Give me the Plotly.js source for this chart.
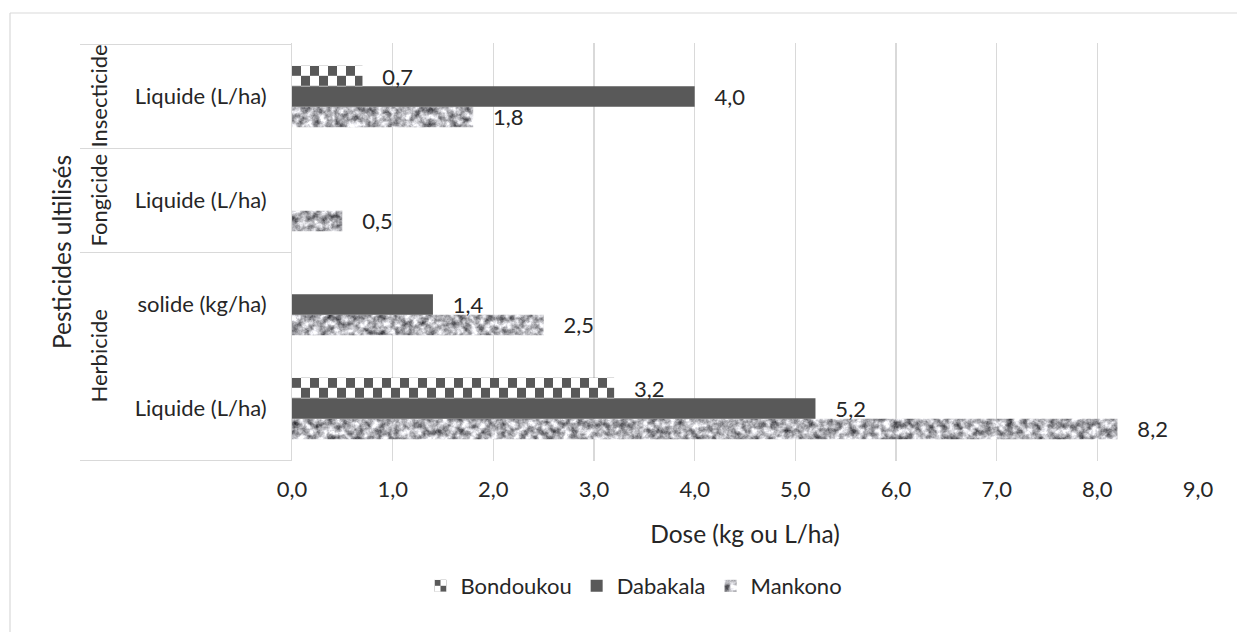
<!DOCTYPE html>
<html>
<head>
<meta charset="utf-8">
<script src="https://cdn.plot.ly/plotly-3.0.1.min.js"></script>
<style>
  html, body { margin:0; padding:0; background:#ffffff; }
  #chart { width:1237px; height:632px; }
</style>
</head>
<body>
<div id="chart"></div>
<script>
// ---- data (categories listed bottom to top) ----
var groups = ['Herbicide', 'Herbicide', 'Fongicide', 'Insecticide'];
var subLabels = ['Liquide (L/ha)', 'solide (kg/ha)', 'Liquide (L/ha)', 'Liquide (L/ha)'];
var bondoukou = [3.2, null, null, 0.7];
var dabakala  = [5.2, 1.4, null, 4.0];
var mankono   = [8.2, 2.5, 0.5, 1.8];
var seriesNames = ['Bondoukou', 'Dabakala', 'Mankono'];
var xTickValues = [0, 1, 2, 3, 4, 5, 6, 7, 8, 9];
var xTitle = 'Dose (kg ou L/ha)';
var yTitle = 'Pesticides ultilisés';

// ---- geometry helpers (pixel layout of the reference) ----
var W = 1237, H = 632;
var PL = 292, PR = 1198, PT = 43, PB = 461;
var PW = PR - PL, PH = PB - PT;
function px2x(p) { return (p - PL) / PW; }
function px2y(p) { return (PB - p) / PH; }

var keys = groups.map(function (g, i) { return g + ' | ' + subLabels[i] + ' #' + i; });
var NB = '\u00a0\u00a0\u00a0';
function labels(arr) {
  return arr.map(function (v) { return v == null ? '' : NB + v.toFixed(1).replace('.', ','); });
}

var txtColor = '#262626';
var fontFam = 'Lato, Carlito, Calibri, "Open Sans", sans-serif';
var baseSize = 22, titleSize = 24.5;

function barTrace(name, vals, color) {
  return {
    type: 'bar', orientation: 'h', name: name,
    y: keys, x: vals,
    text: labels(vals), textposition: 'outside', cliponaxis: false,
    constraintext: 'none',
    textfont: { family: fontFam, size: baseSize, color: txtColor },
    marker: { color: color, line: { width: 0 } },
    hoverinfo: 'skip'
  };
}

// bottom-to-top within a group: Mankono, Dabakala, Bondoukou
var traces = [
  barTrace(seriesNames[2], mankono, '#a6a6a6'),
  barTrace(seriesNames[1], dabakala, '#595959'),
  barTrace(seriesNames[0], bondoukou, '#7f7f7f')
];

// ---- category table lines & labels ----
var shapes = [];
var annotations = [];
var gridCol = '#d9d9d9';
for (var i = 0; i <= groups.length; i++) {
  if (i === 0 || i === groups.length || groups[i] !== groups[i - 1]) {
    shapes.push({ type: 'line', xref: 'paper', yref: 'y', x0: px2x(80), x1: 0,
      y0: i - 0.5, y1: i - 0.5, line: { color: gridCol, width: 1 } });
  }
}
var start = 0;
for (var j = 1; j <= groups.length; j++) {
  if (j === groups.length || groups[j] !== groups[start]) {
    annotations.push({ xref: 'paper', yref: 'y', x: px2x(98), y: (start + j - 1) / 2,
      text: groups[start], textangle: -90, showarrow: false,
      xanchor: 'center', yanchor: 'middle',
      font: { family: fontFam, size: baseSize, color: txtColor } });
    start = j;
  }
}
annotations.push({ xref: 'paper', yref: 'paper', x: px2x(61), y: 0.5,
  text: yTitle, textangle: -90, showarrow: false, xanchor: 'center', yanchor: 'middle',
  font: { family: fontFam, size: titleSize, color: txtColor } });

// chart frame (top and left edges visible)
shapes.push({ type: 'line', xref: 'paper', yref: 'paper', x0: px2x(10), x1: px2x(1260),
  y0: px2y(13), y1: px2y(13), line: { color: gridCol, width: 1.2 } });
shapes.push({ type: 'line', xref: 'paper', yref: 'paper', x0: px2x(10), x1: px2x(10),
  y0: px2y(13), y1: px2y(660), line: { color: gridCol, width: 1.2 } });

var layout = {
  width: W, height: H,
  margin: { l: PL, r: W - PR, t: PT, b: H - PB, pad: 0 },
  paper_bgcolor: '#ffffff', plot_bgcolor: '#ffffff',
  separators: ', ',
  font: { family: fontFam, size: baseSize, color: txtColor },
  barmode: 'group', bargap: 0.41, bargroupgap: 0,
  xaxis: {
    range: [0, 9], tickvals: xTickValues, tickformat: '.1f',
    showgrid: true, gridcolor: gridCol, gridwidth: 1.5,
    zeroline: false, showline: false, ticks: '',
    ticklabelstandoff: 13,
    tickfont: { family: fontFam, size: baseSize, color: txtColor },
    title: { text: xTitle, standoff: 24, font: { family: fontFam, size: titleSize, color: txtColor } }
  },
  yaxis: {
    type: 'category', categoryorder: 'array', categoryarray: keys,
    tickvals: keys, ticktext: subLabels,
    ticks: '', showgrid: false, zeroline: false,
    showline: true, linecolor: gridCol, linewidth: 1,
    ticklabelstandoff: 20,
    tickfont: { family: fontFam, size: baseSize, color: txtColor }
  },
  showlegend: true,
  legend: {
    orientation: 'h', traceorder: 'reversed',
    x: px2x(634), xanchor: 'center', y: px2y(586), yanchor: 'middle',
    font: { family: fontFam, size: baseSize, color: txtColor },
    bgcolor: 'rgba(0,0,0,0)'
  },
  shapes: shapes,
  annotations: annotations
};

var gd = document.getElementById('chart');
Plotly.newPlot(gd, traces, layout, { staticPlot: true, displayModeBar: false }).then(function () {
  var NS = 'http://www.w3.org/2000/svg';
  var svg = gd.querySelector('svg.main-svg');
  var defs = document.createElementNS(NS, 'defs');
  svg.insertBefore(defs, svg.firstChild);

  // granite-like texture for Mankono
  var f = document.createElementNS(NS, 'filter');
  f.setAttribute('id', 'granite');
  f.setAttribute('x', '0'); f.setAttribute('y', '0');
  f.setAttribute('width', '1'); f.setAttribute('height', '1');
  f.setAttribute('color-interpolation-filters', 'sRGB');
  f.innerHTML =
    '<feTurbulence type="fractalNoise" baseFrequency="0.14" numOctaves="4" seed="5" result="n"/>' +
    '<feColorMatrix in="n" type="matrix" values="1.25 0 0 0 0.06  1.25 0 0 0 0.06  1.25 0 0 0 0.08  0 0 0 0 1" result="g"/>' +
    '<feComposite in="g" in2="SourceGraphic" operator="in"/>';
  defs.appendChild(f);

  var count = 0;
  function checker(path, sw, sh) {
    var bb = path.getBBox();
    var id = 'chk' + (count++);
    var p = document.createElementNS(NS, 'pattern');
    p.setAttribute('id', id);
    p.setAttribute('patternUnits', 'userSpaceOnUse');
    p.setAttribute('width', 2 * sw); p.setAttribute('height', 2 * sh);
    p.setAttribute('patternTransform', 'translate(' + bb.x + ',' + bb.y + ')');
    p.innerHTML = '<rect x="0" y="0" width="' + 2 * sw + '" height="' + 2 * sh + '" fill="#ffffff"/>' +
      '<rect x="0" y="0" width="' + sw + '" height="' + sh + '" fill="#595959"/>' +
      '<rect x="' + sw + '" y="' + sh + '" width="' + sw + '" height="' + sh + '" fill="#595959"/>';
    defs.appendChild(p);
    path.style.fill = 'url(#' + id + ')';
  }

  var barTraces = gd.querySelectorAll('g.barlayer g.trace');
  barTraces.forEach(function (tg, ti) {
    var name = traces[ti].name;
    tg.querySelectorAll('g.point path').forEach(function (path) {
      if (name === 'Mankono') path.setAttribute('filter', 'url(#granite)');
      if (name === 'Bondoukou') checker(path, 9, 10);
    });
  });

  gd.querySelectorAll('g.legend g.traces').forEach(function (lg) {
    var t = lg.querySelector('text.legendtext');
    var name = t ? t.textContent : '';
    lg.querySelectorAll('g.legendpoints path').forEach(function (path) {
      if (name === 'Mankono') path.setAttribute('filter', 'url(#granite)');
      if (name === 'Bondoukou') checker(path, 6, 6);
    });
  });
});
</script>
</body>
</html>
